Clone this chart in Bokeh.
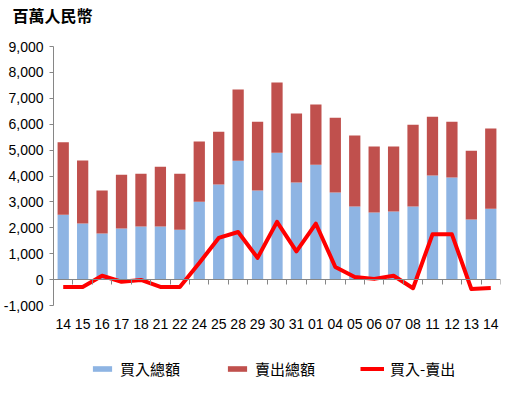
from bokeh.plotting import figure
from bokeh.models import (ColumnDataSource, FixedTicker, LinearAxis, Range1d,
                          Legend, LegendItem, NumeralTickFormatter, Title)
from bokeh.core.properties import value
from bokeh.embed import file_html
from bokeh.resources import INLINE

# ---- data (millions RMB) ----
dates = ["14", "15", "16", "17", "18", "21", "22", "24", "25", "28", "29", "30",
         "31", "01", "04", "05", "06", "07", "08", "11", "12", "13", "14"]
buy = [2510, 2170, 1780, 1970, 2050, 2050, 1930, 3010, 3670, 4590, 3440, 4900,
       3750, 4440, 3360, 2820, 2590, 2630, 2820, 4020, 3940, 2320, 2740]
sell = [2790, 2430, 1660, 2080, 2040, 2310, 2160, 2320, 2040, 2750, 2660, 2710,
        2660, 2320, 2890, 2740, 2550, 2510, 3160, 2270, 2160, 2660, 3090]
net = [-280, -280, 150, -80, -10, -280, -280, 640, 1610, 1840, 840, 2230,
       1090, 2160, 490, 100, 30, 150, -330, 1750, 1750, -360, -320]
y_ticks = [-1000, 0, 1000, 2000, 3000, 4000, 5000, 6000, 7000, 8000, 9000]
y_min, y_max = -1000, 9000

n = len(dates)
xs = list(range(n))
src = ColumnDataSource(dict(x=xs, buy=buy, sell=sell, net=net,
                            total=[b + s for b, s in zip(buy, sell)],
                            lab=dates, laby=[y_min] * n))

# frame extends below the value axis to host the category labels and legend
p = figure(width=508, height=388, output_backend="svg", toolbar_location=None,
           x_range=Range1d(-0.5, n - 0.5), y_range=Range1d(-3970, y_max),
           min_border_left=53, min_border_right=8, min_border_top=46,
           min_border_bottom=6, x_axis_location=None, y_axis_location=None)
p.outline_line_color = None
p.grid.visible = False

AX = "#868686"
LBL_FONT = "Liberation Sans"

# spacer between frame and title (panel nearest the frame)
spacer = Title(text=" ", text_font_size="2px", standoff=14)
p.add_layout(spacer, "above")
# title
t = Title(text="百萬人民幣", text_font="Noto Sans CJK TC", text_font_size="16px",
          text_font_style="bold", text_color="#000000", offset=-41, standoff=0,
          vertical_align="top")
p.add_layout(t, "above")

bw = 0.58
r_buy = p.vbar(x="x", bottom=0, top="buy", width=bw, source=src,
               fill_color="#8EB4E3", line_color=None)
r_sell = p.vbar(x="x", bottom="buy", top="total", width=bw, source=src,
                fill_color="#C0504D", line_color=None)
r_net = p.line(x="x", y="net", source=src, line_color="#FF0000", line_width=4,
               line_join="round")

# y axis
ya = LinearAxis(ticker=FixedTicker(ticks=y_ticks),
                formatter=NumeralTickFormatter(format="0,0"),
                bounds=(y_min, y_max))
ya.axis_line_color = AX
ya.major_tick_line_color = AX
ya.major_tick_in = 0
ya.major_tick_out = 4
ya.minor_tick_line_color = None
ya.major_label_text_font = LBL_FONT
ya.major_label_text_font_size = "14px"
ya.major_label_text_color = "#000000"
ya.major_label_standoff = 6
p.add_layout(ya, "left")

# category labels under the value axis bottom
p.text(x="x", y="laby", text="lab", source=src, y_offset=18,
       text_align="center", text_baseline="middle",
       text_font=value(LBL_FONT), text_font_size="14px", text_color="#000000")

# axis line at zero with category boundary ticks
za = LinearAxis(fixed_location=0,
                ticker=FixedTicker(ticks=[], minor_ticks=[i - 0.5 for i in range(n + 1)]))
za.axis_line_color = AX
za.major_tick_line_color = None
za.minor_tick_line_color = AX
za.minor_tick_in = 0
za.minor_tick_out = 5
za.major_label_text_font_size = "0px"
p.add_layout(za, "below")

legend = Legend(items=[LegendItem(label="買入總額", renderers=[r_buy]),
                       LegendItem(label="賣出總額", renderers=[r_sell]),
                       LegendItem(label="買入-賣出", renderers=[r_net])],
                orientation="horizontal", location=(37, 3),
                glyph_width=24, glyph_height=7, label_standoff=6, spacing=45,
                padding=0, margin=0, border_line_color=None,
                background_fill_alpha=0,
                label_text_font="Noto Sans CJK TC", label_text_font_size="15px",
                label_text_color="#000000")
p.add_layout(legend, "center")

open("out.html", "w").write(file_html(p, INLINE))
